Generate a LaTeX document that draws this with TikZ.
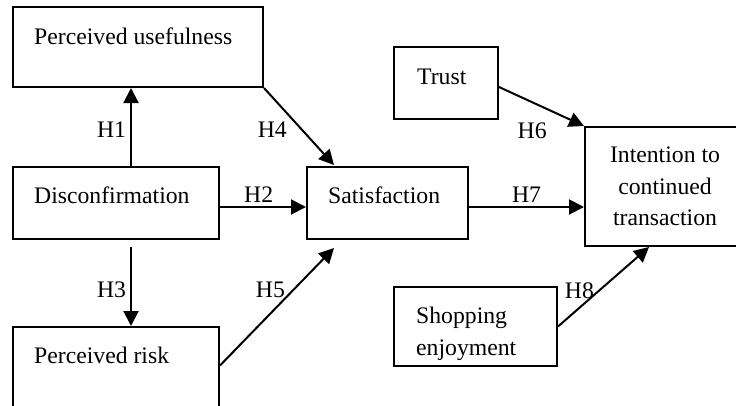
\documentclass[tikz,border=0pt]{standalone}
\usepackage{fontspec}
\setmainfont{Liberation Serif}
\usetikzlibrary{arrows.meta}

\tikzset{
  box/.style={draw,line width=2pt,inner sep=0pt},
  txt/.style={anchor=base west,inner sep=0pt,align=left},
  hyp/.style={inner sep=4pt},
  link/.style={line width=2pt,-{Triangle[length=15pt,width=15pt]}}
}

\begin{document}
\begin{tikzpicture}[x=1pt,y=-1pt,font=\fontsize{23.7}{31.5}\selectfont]
\useasboundingbox (0,0) rectangle (736,405);
\clip (0,0) rectangle (736,405);
% boxes
\node at (138,47)[box,minimum width=250,minimum height=80] (use) {};
\node at (116,203)[box,minimum width=206,minimum height=72] (dis) {};
\node at (116,384)[box,minimum width=206,minimum height=114] (risk) {};
\node at (387.5,203)[box,minimum width=161,minimum height=72] (sat) {};
\node at (446,83)[box,minimum width=104,minimum height=72] (trust) {};
\node at (665,186.5)[box,minimum width=160,minimum height=119,align=center] (int) {Intention to\\continued\\transaction};
\node at (475.5,326.5)[box,minimum width=163,minimum height=79] (shop) {};
% texts
\node at (34,44)[txt] (use-t) {Perceived usefulness};
\node at (34,203)[txt] (dis-t) {Disconfirmation};
\node at (34,363)[txt] (risk-t) {Perceived risk};
\node at (328,203)[txt] (sat-t) {Satisfaction};
\node at (417,84)[txt] (trust-t) {Trust};
\node at (416,355)[txt] (shop-t) {Shopping\\enjoyment};
% hypotheses
\draw[link] ([xshift=15]dis.north) -- node[hyp,pos=0.46,left]{H1} ([xshift=15]dis.north |- use.south);
\draw[link] ([yshift=-4]dis.east) -- node[hyp,pos=0.45,above]{H2} ([yshift=-4]dis.east -| sat.west);
\draw[link] ([xshift=15,yshift=-7]dis.south) -- node[hyp,pos=0.54,left]{H3} ([xshift=15]risk.north);
\draw[link] (use.south east) -- node[hyp,pos=0.54,left=10pt]{H4} ([xshift=28,yshift=1]sat.north west);
\draw[link] ([yshift=18.5]risk.east) -- node[hyp,pos=0.64,left=3pt]{H5} ([xshift=28,yshift=-8]sat.south west);
\draw[link] ([yshift=-4]trust.east) -- node[hyp,pos=0.39,below=16pt]{H6} (int.north west);
\draw[link] ([yshift=-4]sat.east) -- node[hyp,pos=0.5,above]{H7} ([yshift=-4]sat.east -| int.west);
\draw[link] (shop.east) -- node[hyp,pos=0.45,left]{H8} ([xshift=-16]int.south);
\end{tikzpicture}
\end{document}
